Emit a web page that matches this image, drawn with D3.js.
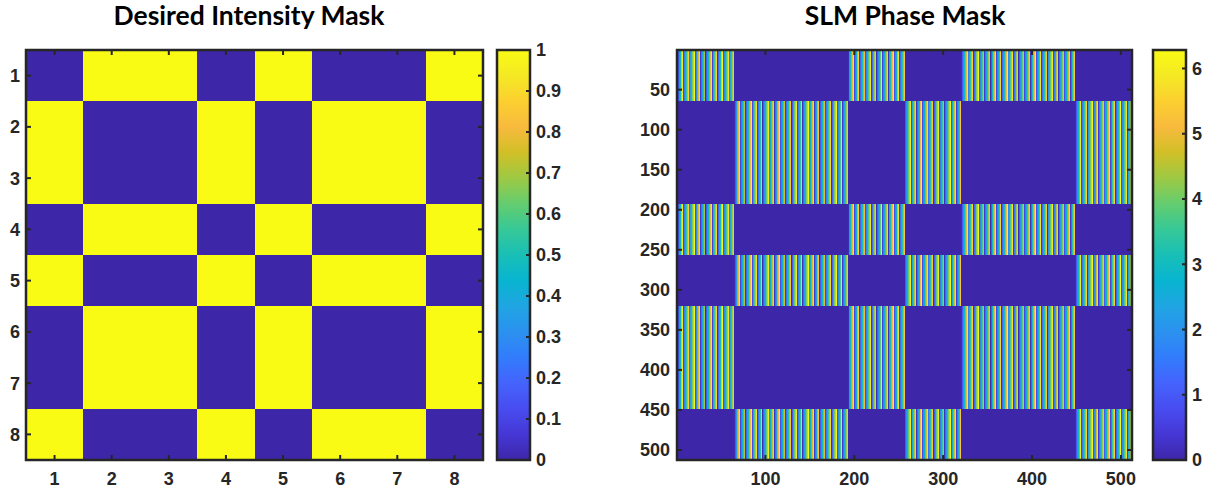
<!DOCTYPE html>
<html>
<head>
<meta charset="utf-8">
<script src="https://cdn.jsdelivr.net/npm/d3@7"></script>
<style>
  body { margin: 0; background: #fff; }
  svg { display: block; }
  .tick-label { font-family: "Liberation Sans", Arial, sans-serif; font-weight: bold; font-size: 18px; fill: #262626; }
  .title { font-family: Lato, "Open Sans", sans-serif; font-weight: bold; font-size: 26.5px; fill: #000; }
</style>
</head>
<body>
<svg id="fig" width="1214" height="493"></svg>
<script>
// ---- data ----
// 8x8 binary intensity pattern (rows top to bottom)
const intensityMask = [
  [0, 1, 1, 0, 1, 0, 0, 1],
  [1, 0, 0, 1, 0, 1, 1, 0],
  [1, 0, 0, 1, 0, 1, 1, 0],
  [0, 1, 1, 0, 1, 0, 0, 1],
  [1, 0, 0, 1, 0, 1, 1, 0],
  [0, 1, 1, 0, 1, 0, 0, 1],
  [0, 1, 1, 0, 1, 0, 0, 1],
  [1, 0, 0, 1, 0, 1, 1, 0]
];
const maskTicks = [1, 2, 3, 4, 5, 6, 7, 8];
const intensityTicks = [0, 0.1, 0.2, 0.3, 0.4, 0.5, 0.6, 0.7, 0.8, 0.9, 1];

// SLM: 512x512 pixels, each mask cell is a 64x64 block
const slmSize = 512;
const blockSize = 64;
// grating phase (rad) across one 64-pixel block, applied where the mask is dark
const gratingPhase = [
  0.1, 1.0, 2.0, 2.9, 3.9, 4.9, 5.9, 0.6, 1.6, 2.6, 3.5, 4.5, 5.5, 0.2, 1.2, 2.2,
  3.1, 4.1, 5.1, 6.1, 0.8, 1.8, 2.7, 3.7, 4.7, 5.7, 0.4, 1.4, 2.4, 3.3, 4.3, 5.3,
  0.1, 1.0, 2.0, 2.9, 3.9, 4.9, 5.9, 0.6, 1.6, 2.6, 3.5, 4.5, 5.5, 0.2, 1.2, 2.2,
  3.1, 4.1, 5.1, 6.1, 0.8, 1.8, 2.7, 3.7, 4.7, 5.7, 0.4, 1.4, 2.4, 3.3, 4.3, 5.3
];
const slmXTicks = [100, 200, 300, 400, 500];
const slmYTicks = [50, 100, 150, 200, 250, 300, 350, 400, 450, 500];
const phaseMax = 2 * Math.PI;
const phaseTicks = [0, 1, 2, 3, 4, 5, 6];

// parula colormap anchors
const parulaStops = [
  [0.2422, 0.1504, 0.6603], [0.2706, 0.2147, 0.8364], [0.2813, 0.3006, 0.9414],
  [0.2699, 0.3892, 0.9906], [0.1963, 0.4847, 0.9892], [0.1687, 0.5703, 0.9359],
  [0.1248, 0.6459, 0.8883], [0.0297, 0.7082, 0.8163], [0.0964, 0.7500, 0.7120],
  [0.2161, 0.7843, 0.5923], [0.3909, 0.8029, 0.4354], [0.6174, 0.7876, 0.2612],
  [0.8203, 0.7498, 0.1535], [0.9728, 0.7298, 0.2394], [0.9892, 0.8136, 0.1885],
  [0.9597, 0.9135, 0.1423], [0.9769, 0.9839, 0.0805]
];
const parula = d3.piecewise(d3.interpolateRgb,
  parulaStops.map(c => d3.rgb(c[0] * 255, c[1] * 255, c[2] * 255)));

// ---- layout ----
const svg = d3.select("#fig");
const axisColor = "#262626";
const P1 = { x0: 26, x1: 483, y0: 50, y1: 460 };
const CB1 = { x0: 497, x1: 530 };
const P2 = { x0: 677, x1: 1132, y0: 50, y1: 460 };
const CB2 = { x0: 1153, x1: 1186 };
const tickLen = 5;

const defs = svg.append("defs");

function frame(x0, y0, x1, y1) {
  svg.append("rect")
    .attr("x", x0).attr("y", y0).attr("width", x1 - x0).attr("height", y1 - y0)
    .attr("fill", "none").attr("stroke", axisColor).attr("stroke-width", 2.5);
}

function tickLine(xa, ya, xb, yb) {
  svg.append("line").attr("x1", xa).attr("y1", ya).attr("x2", xb).attr("y2", yb)
    .attr("stroke", axisColor).attr("stroke-width", 2);
}

function colorbar(cb, y0, y1, domainMax, ticks, id) {
  const grad = defs.append("linearGradient").attr("id", id)
    .attr("x1", 0).attr("y1", 1).attr("x2", 0).attr("y2", 0);
  d3.range(0, 1.0001, 1 / 64).forEach(t => {
    grad.append("stop").attr("offset", t).attr("stop-color", parula(t));
  });
  svg.append("rect").attr("x", cb.x0).attr("y", y0)
    .attr("width", cb.x1 - cb.x0).attr("height", y1 - y0)
    .attr("fill", `url(#${id})`);
  const s = d3.scaleLinear().domain([0, domainMax]).range([y1, y0]);
  ticks.forEach(v => {
    tickLine(cb.x1, s(v), cb.x1 - 4, s(v));
    svg.append("text").attr("class", "tick-label")
      .attr("x", cb.x1 + 6).attr("y", s(v)).attr("dy", "0.36em")
      .text(String(v));
  });
  frame(cb.x0, y0, cb.x1, y1);
}

// ---- left panel: desired intensity mask ----
{
  const x = d3.scaleBand().domain(maskTicks).range([P1.x0, P1.x1]);
  const y = d3.scaleBand().domain(maskTicks).range([P1.y0, P1.y1]);
  const color = d3.scaleSequential(parula).domain([0, 1]);
  const cells = [];
  intensityMask.forEach((row, i) => row.forEach((v, j) =>
    cells.push({ r: maskTicks[i], c: maskTicks[j], v })));
  svg.append("g").attr("shape-rendering", "crispEdges")
    .selectAll("rect").data(cells).join("rect")
    .attr("x", d => x(d.c)).attr("y", d => y(d.r))
    .attr("width", x.bandwidth() + 0.6).attr("height", y.bandwidth() + 0.6)
    .attr("fill", d => color(d.v));

  maskTicks.forEach(t => {
    const cx = x(t) + x.bandwidth() / 2;
    const cy = y(t) + y.bandwidth() / 2;
    tickLine(cx, P1.y1, cx, P1.y1 - tickLen);
    tickLine(cx, P1.y0, cx, P1.y0 + tickLen);
    tickLine(P1.x0, cy, P1.x0 + tickLen, cy);
    tickLine(P1.x1, cy, P1.x1 - tickLen, cy);
    svg.append("text").attr("class", "tick-label").attr("text-anchor", "middle")
      .attr("x", cx).attr("y", P1.y1 + 25).text(t);
    svg.append("text").attr("class", "tick-label").attr("text-anchor", "end")
      .attr("x", P1.x0 - 6).attr("y", cy).attr("dy", "0.36em").text(t);
  });
  frame(P1.x0, P1.y0, P1.x1, P1.y1);
  colorbar(CB1, P1.y0, P1.y1, 1, intensityTicks, "cbIntensity");

  svg.append("text").attr("class", "title").attr("text-anchor", "middle")
    .attr("x", 249).attr("y", 25).text("Desired Intensity Mask");
}

// ---- right panel: SLM phase mask ----
{
  const x = d3.scaleLinear().domain([0.5, slmSize + 0.5]).range([P2.x0, P2.x1]);
  const y = d3.scaleLinear().domain([0.5, slmSize + 0.5]).range([P2.y0, P2.y1]);
  const color = d3.scaleSequential(parula).domain([0, phaseMax]);
  const colW = x(2) - x(1);

  // each block row is uniform vertically, so draw one strip per pixel column
  const strips = [];
  intensityMask.forEach((row, bi) => {
    for (let col = 1; col <= slmSize; col++) {
      const bj = Math.floor((col - 1) / blockSize);
      const phase = row[bj] === 0 ? gratingPhase[(col - 1) % blockSize] : 0;
      strips.push({ col, r0: bi * blockSize + 1, r1: (bi + 1) * blockSize, phase });
    }
  });
  svg.append("g").attr("shape-rendering", "crispEdges")
    .selectAll("rect").data(strips).join("rect")
    .attr("x", d => x(d.col - 0.5))
    .attr("y", d => y(d.r0 - 0.5))
    .attr("width", colW)
    .attr("height", d => y(d.r1 + 0.5) - y(d.r0 - 0.5))
    .attr("fill", d => color(d.phase));

  slmXTicks.forEach(t => {
    tickLine(x(t), P2.y1, x(t), P2.y1 - tickLen);
    tickLine(x(t), P2.y0, x(t), P2.y0 + tickLen);
    svg.append("text").attr("class", "tick-label").attr("text-anchor", "middle")
      .attr("x", x(t)).attr("y", P2.y1 + 25).text(t);
  });
  slmYTicks.forEach(t => {
    tickLine(P2.x0, y(t), P2.x0 + tickLen, y(t));
    tickLine(P2.x1, y(t), P2.x1 - tickLen, y(t));
    svg.append("text").attr("class", "tick-label").attr("text-anchor", "end")
      .attr("x", P2.x0 - 7).attr("y", y(t)).attr("dy", "0.36em").text(t);
  });
  frame(P2.x0, P2.y0, P2.x1, P2.y1);
  colorbar(CB2, P2.y0, P2.y1, phaseMax, phaseTicks, "cbPhase");

  svg.append("text").attr("class", "title").attr("text-anchor", "middle")
    .attr("x", 905).attr("y", 25).text("SLM Phase Mask");
}
</script>
</body>
</html>
